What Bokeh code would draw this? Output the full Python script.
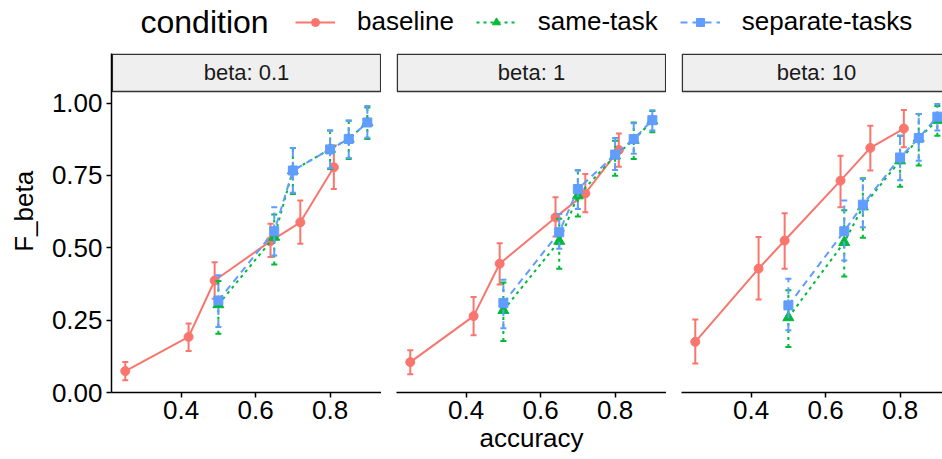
import math
from bokeh.plotting import figure
from bokeh.models import (ColumnDataSource, Range1d, FixedTicker, PrintfTickFormatter, Label, Legend,
                          LegendItem)
from bokeh.layouts import row, column
from bokeh.embed import file_html
from bokeh.resources import INLINE

# ---------------- data ----------------
conditions = ["baseline", "same-task", "separate-tasks"]
panel_labels = ["beta: 0.1", "beta: 1", "beta: 10"]

acc_baseline = [0.25, 0.42, 0.49, 0.64, 0.72, 0.81]
acc_tasks = [0.50, 0.65, 0.70, 0.80, 0.85, 0.90]

# beta = 0.1
fb_b01 = [0.074, 0.192, 0.387, 0.523, 0.588, 0.778]
lo_b01 = [0.042, 0.143, 0.324, 0.468, 0.514, 0.703]
hi_b01 = [0.105, 0.238, 0.450, 0.583, 0.663, 0.853]
fb_s01 = [0.304, 0.537, 0.767, 0.841, 0.876, 0.933]
lo_s01 = [0.203, 0.442, 0.686, 0.772, 0.807, 0.876]
hi_s01 = [0.385, 0.615, 0.845, 0.905, 0.939, 0.985]
fb_p01 = [0.318, 0.557, 0.767, 0.840, 0.876, 0.933]
lo_p01 = [0.226, 0.473, 0.690, 0.775, 0.810, 0.880]
hi_p01 = [0.405, 0.640, 0.845, 0.905, 0.940, 0.990]

# beta = 1
fb_b1 = [0.105, 0.264, 0.445, 0.605, 0.688, 0.838]
lo_b1 = [0.063, 0.198, 0.373, 0.539, 0.623, 0.780]
hi_b1 = [0.146, 0.330, 0.516, 0.675, 0.755, 0.895]
fb_s1 = [0.284, 0.523, 0.680, 0.818, 0.872, 0.939]
lo_s1 = [0.178, 0.428, 0.608, 0.749, 0.807, 0.899]
hi_s1 = [0.380, 0.600, 0.767, 0.870, 0.933, 0.973]
fb_p1 = [0.309, 0.554, 0.703, 0.822, 0.876, 0.941]
lo_p1 = [0.222, 0.497, 0.634, 0.769, 0.825, 0.905]
hi_p1 = [0.390, 0.617, 0.769, 0.879, 0.930, 0.975]

# beta = 10
fb_b10 = [0.175, 0.428, 0.525, 0.732, 0.845, 0.912]
lo_b10 = [0.100, 0.321, 0.428, 0.640, 0.767, 0.847]
hi_b10 = [0.252, 0.537, 0.619, 0.818, 0.922, 0.976]
fb_s10 = [0.259, 0.519, 0.642, 0.801, 0.879, 0.941]
lo_s10 = [0.157, 0.401, 0.535, 0.711, 0.784, 0.887]
hi_s10 = [0.353, 0.630, 0.740, 0.887, 0.962, 0.990]
fb_p10 = [0.301, 0.557, 0.649, 0.812, 0.879, 0.953]
lo_p10 = [0.215, 0.456, 0.571, 0.733, 0.801, 0.905]
hi_p10 = [0.393, 0.663, 0.738, 0.887, 0.962, 0.997]

x_ticks = [0.4, 0.6, 0.8]
y_ticks = [0.0, 0.25, 0.5, 0.75, 1.0]

panels = [
    {"baseline": (fb_b01, lo_b01, hi_b01), "same-task": (fb_s01, lo_s01, hi_s01), "separate-tasks": (fb_p01, lo_p01, hi_p01)},
    {"baseline": (fb_b1, lo_b1, hi_b1), "same-task": (fb_s1, lo_s1, hi_s1), "separate-tasks": (fb_p1, lo_p1, hi_p1)},
    {"baseline": (fb_b10, lo_b10, hi_b10), "same-task": (fb_s10, lo_s10, hi_s10), "separate-tasks": (fb_p10, lo_p10, hi_p10)},
]

# ---------------- style ----------------
FONT = "Liberation Sans"
colors = {"baseline": "#F8766D", "same-task": "#00BA38", "separate-tasks": "#619CFF"}
dashes = {"baseline": "solid", "same-task": "3 4", "separate-tasks": "7 5"}
markers = {"baseline": "circle", "same-task": "triangle", "separate-tasks": "square"}
msize = {"baseline": 9, "same-task": 11, "separate-tasks": 9}

W_TOTAL = 942
H_TOTAL = 459
YLAB_W = 40
LEFT = 111
FW = 270
GAP = 15
X0, X1 = 0.213, 0.938
Y0, Y1 = 0.0, 1.04
LEG_H = 52
PANEL_H = H_TOTAL - LEG_H
TOP = 1
BOTTOM = 67
STRIP_PX = 38
frame_h = PANEL_H - TOP - BOTTOM
plot_px = frame_h - STRIP_PX
Y_TOP = Y1 * frame_h / plot_px
X_PX = (X1 - X0) / FW          # data units per pixel (x)
Y_PX = Y_TOP / frame_h         # data units per pixel (y)

widths = [LEFT - YLAB_W + FW, GAP + FW]
widths.append(W_TOTAL - YLAB_W - sum(widths))
lefts = [LEFT - YLAB_W, GAP, GAP]

# ---------------- legend strip on top ----------------
leg = figure(width=W_TOTAL, height=LEG_H, x_range=Range1d(0, W_TOTAL), y_range=Range1d(0, LEG_H),
             x_axis_location=None, y_axis_location=None, toolbar_location=None,
             output_backend="svg", min_border=0, outline_line_color=None)
leg.grid.visible = False
items = []
for c in conditions:
    fb0 = panels[0][c][0]
    xs0 = acc_baseline if c == "baseline" else acc_tasks
    lsrc = ColumnDataSource(dict(x=xs0, y=fb0))
    lr = leg.line("x", "y", source=lsrc, line_color=colors[c], line_width=2, line_dash=dashes[c], visible=False)
    sr = leg.scatter("x", "y", source=lsrc, marker=markers[c], size=msize[c], color=colors[c], visible=False)
    items.append(LegendItem(label=c, renderers=[lr, sr]))
legend = Legend(items=items, orientation="horizontal", location=(295, 15), padding=0, margin=0,
                spacing=22, label_standoff=22, glyph_width=40, glyph_height=20,
                label_text_font=FONT, label_text_font_size="26px", label_text_color="black",
                border_line_color=None, background_fill_alpha=0, inactive_fill_alpha=0)
leg.add_layout(legend, "center")
leg.add_layout(Label(x=140, y=31, text="condition", text_font=FONT, text_font_size="32px",
                     text_baseline="alphabetic", text_align="left", text_color="black"))

# ---------------- y-axis title column ----------------
ylab = figure(width=YLAB_W, height=PANEL_H, x_range=Range1d(0, YLAB_W), y_range=Range1d(0, PANEL_H),
              x_axis_location=None, y_axis_location=None, toolbar_location=None,
              output_backend="svg", min_border=0, outline_line_color=None)
ylab.grid.visible = False
ylab.add_layout(Label(x=23, y=BOTTOM + plot_px / 2, text="F_beta", text_font=FONT, text_font_size="26px",
                      angle=math.pi / 2, text_align="center", text_baseline="middle", text_color="black"))

# ---------------- panels ----------------
figs = []
for i in range(3):
    fw = widths[i] - lefts[i]
    x_end = X0 + (X1 - X0) * fw / FW
    p = figure(width=widths[i], height=PANEL_H, x_range=Range1d(X0, x_end), y_range=Range1d(Y0, Y_TOP),
               y_axis_location=("left" if i == 0 else None), toolbar_location=None,
               output_backend="svg", min_border_left=lefts[i], min_border_right=0,
               min_border_top=TOP, min_border_bottom=BOTTOM, outline_line_color=None)
    p.grid.visible = False

    # facet strip (panel header box)
    strip_right = (x_end - 0.8 * X_PX) if i < 2 else (x_end + 10 * X_PX)
    p.quad(left=[X0 + 0.8 * X_PX], right=[strip_right], bottom=[Y1], top=[Y_TOP - 0.8 * Y_PX],
           fill_color="#EFEFEF", line_color="#333333", line_width=1.5, level="underlay")
    p.add_layout(Label(x=(X0 + X1) / 2, y=(Y1 + Y_TOP) / 2, text=panel_labels[i], text_font=FONT,
                       text_font_size="22px", text_align="center", text_baseline="middle",
                       text_color="#1A1A1A"))

    ax = p.xaxis[0]
    ax.ticker = FixedTicker(ticks=x_ticks)
    ax.formatter = PrintfTickFormatter(format="%.1f")
    ax.axis_line_width = 1.5
    ax.axis_line_color = "black"
    ax.major_tick_line_width = 1.5
    ax.major_tick_line_color = "black"
    ax.major_tick_out = 5
    ax.major_tick_in = 0
    ax.minor_tick_line_color = None
    ax.major_label_text_font = FONT
    ax.major_label_text_font_size = "26px"
    ax.major_label_text_color = "black"
    ax.major_label_standoff = 3
    if i == 1:
        ax.axis_label = "accuracy"
        ax.axis_label_text_font = FONT
        ax.axis_label_text_font_size = "26px"
        ax.axis_label_text_font_style = "normal"
        ax.axis_label_text_color = "black"
        ax.axis_label_standoff = 1
    if i == 0:
        ay = p.yaxis[0]
        ay.ticker = FixedTicker(ticks=y_ticks)
        ay.formatter = PrintfTickFormatter(format="%.2f")
        ay.axis_line_width = 1.5
        ay.axis_line_color = "black"
        ay.major_tick_line_width = 1.5
        ay.major_tick_line_color = "black"
        ay.major_tick_out = 5
        ay.major_tick_in = 0
        ay.minor_tick_line_color = None
        ay.major_label_text_font = FONT
        ay.major_label_text_font_size = "26px"
        ay.major_label_text_color = "black"
        ay.major_label_standoff = 4

    for c in conditions:
        fb, lo, hi = panels[i][c]
        xs = acc_baseline if c == "baseline" else acc_tasks
        src = ColumnDataSource(dict(x=xs, y=fb, lo=lo, hi=hi))
        p.line("x", "y", source=src, line_color=colors[c], line_width=2, line_dash=dashes[c])
        p.segment(x0="x", y0="lo", x1="x", y1="hi", source=src, line_color=colors[c], line_width=2,
                  line_dash=dashes[c])
        p.scatter("x", "lo", source=src, marker="dash", size=6, line_color=colors[c], line_width=2)
        p.scatter("x", "hi", source=src, marker="dash", size=6, line_color=colors[c], line_width=2)
        p.scatter("x", "y", source=src, marker=markers[c], size=msize[c], color=colors[c])
    figs.append(p)

layout = column(leg, row(ylab, *figs))
open("out.html", "w").write(file_html(layout, INLINE))
